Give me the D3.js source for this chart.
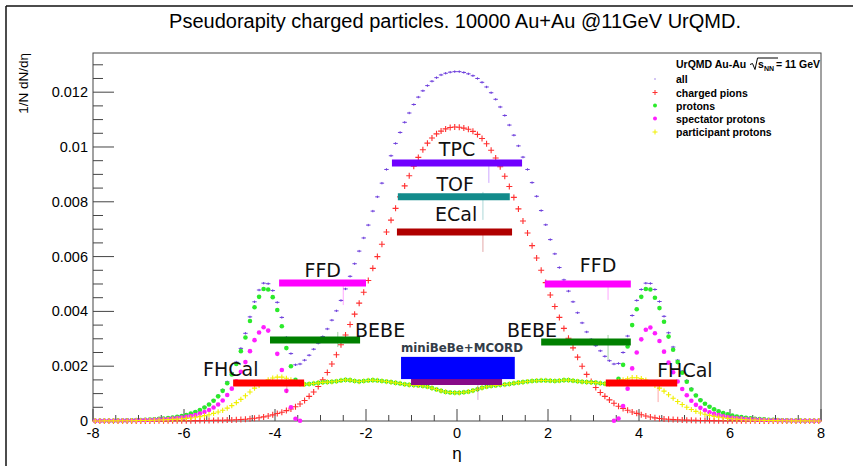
<!DOCTYPE html>
<html>
<head>
<meta charset="utf-8">
<script src="https://cdn.jsdelivr.net/npm/d3@7"></script>
<style>
body{margin:0;background:#fff}
svg{display:block}
</style>
</head>
<body>
<div id="chart"></div>
<script>
// bin contents: 160 bins of 0.1 in eta (-8..8), values in units of 1e-4
var UNIT = 1e-4;
var allParticles = [
 0.05,0.06,0.08,0.1,0.12,0.14,0.18,0.22,0.27,0.33,
 0.39,0.47,0.56,0.67,0.8,0.96,1.14,1.35,1.6,1.92,
 2.3,2.8,3.4,4.15,5.1,6.2,7.6,9.3,11.4,14.3,
 17.6,21.5,26.5,32,38,43.5,47.8,50.3,50.1,47.6,
 43.3,37.8,30.5,24.6,20.5,20.8,22.2,24,26.2,28.4,
 30.8,33.6,36.8,40.2,44,48.2,52.8,57.4,62,66.8,
 71.5,76.6,81.8,86.8,91.8,96.8,101.3,105.3,109,112.4,
 115.5,118.2,120.5,122.4,124,125.3,126.3,126.9,127.3,127.5,
 127.5,127.2,126.7,126,125,123.6,121.9,119.8,117.4,114.6,
 111.5,108,104.3,100.4,96.3,91.8,87,82,76.8,71.6,
 66.2,61,56,51.5,47.4,43.5,39.5,35.8,32.5,29.8,
 27.5,25.6,23.6,22,20.8,21,25,31,38.5,44,
 48,50.3,50.2,48,43.6,38.2,32.2,27,22.2,18.2,
 14.8,11.9,9.6,7.9,6.5,5.4,4.4,3.62,3.0,2.5,
 2.08,1.72,1.45,1.22,1.03,0.86,0.72,0.6,0.5,0.42,
 0.35,0.28,0.23,0.19,0.15,0.12,0.1,0.08,0.06,0.05
];
var chargedPions = [
 0.01,0.01,0.01,0.01,0.02,0.02,0.02,0.02,0.03,0.03,
 0.03,0.04,0.04,0.05,0.05,0.06,0.06,0.07,0.08,0.09,
 0.1,0.11,0.12,0.14,0.16,0.18,0.21,0.24,0.28,0.33,
 0.39,0.46,0.55,0.66,0.8,0.98,1.2,1.5,1.85,2.25,
 2.75,3.2,3.8,4.4,5.2,6.2,7.5,9.0,10.6,12.6,
 15,17.7,20.8,24.2,27.8,31.4,35.2,39,43,47,
 51.3,55.7,60,64.5,69,73.3,77.6,81.8,85.8,89.5,
 93,96.2,99,101.4,103.3,104.8,105.8,106.6,107.1,107.3,
 107.2,106.9,106.5,105.7,104.6,103.1,101.2,98.8,96,92.8,
 89.3,85.6,81.6,77.4,73,68.6,64,59.5,55,50.5,
 46,41.8,37.8,33.8,30.2,26.7,23.3,20,17,14.4,
 12.2,10.4,9.0,7.7,6.5,5.4,4.6,3.9,3.3,2.8,
 2.3,1.85,1.45,1.15,0.92,0.75,0.62,0.52,0.44,0.37,
 0.31,0.26,0.22,0.19,0.16,0.14,0.12,0.11,0.1,0.09,
 0.08,0.07,0.06,0.06,0.05,0.05,0.04,0.04,0.03,0.03,
 0.03,0.02,0.02,0.02,0.02,0.01,0.01,0.01,0.01,0.01
];
var protons = [
 0.04,0.05,0.07,0.09,0.11,0.14,0.17,0.21,0.26,0.32,
 0.38,0.46,0.55,0.65,0.78,0.93,1.1,1.3,1.55,1.85,
 2.2,2.7,3.3,4.0,4.9,6.0,7.4,9.0,11.0,13.8,
 17.0,20.8,25.5,30.5,36.5,41.5,45.3,48.2,48.0,45.2,
 40.5,34.6,26.6,20.0,15.0,13.6,13.4,13.5,13.7,13.9,
 14.1,14.2,14.3,14.5,14.8,15.0,14.9,14.6,14.4,14.6,
 14.8,14.9,14.8,14.6,14.4,14.2,13.9,13.7,13.4,13.2,
 13.1,13.0,12.8,12.5,12.0,11.5,11.0,10.6,10.4,10.3,
 10.3,10.5,10.7,11.1,11.6,12.1,12.5,12.8,13,13.2,
 13.3,13.5,13.8,14,14.2,14.4,14.6,14.7,14.8,14.8,
 14.7,14.6,14.7,14.9,14.9,14.7,14.5,14.3,14.2,14.1,
 14,13.8,13.6,13.5,13.8,15.4,20.5,27.2,35,40.8,
 45.3,48.2,48,45,41.2,36.2,30.8,26,21.5,17.6,
 14.3,11.5,9.3,7.6,6.3,5.2,4.25,3.5,2.9,2.4,
 2.0,1.65,1.4,1.18,0.99,0.82,0.69,0.58,0.48,0.4,
 0.33,0.27,0.22,0.18,0.15,0.12,0.09,0.08,0.06,0.05
];
var spectatorProtons = [
 0.03,0.04,0.05,0.06,0.08,0.1,0.12,0.15,0.18,0.21,
 0.26,0.31,0.37,0.44,0.52,0.62,0.74,0.88,1.05,1.25,
 1.5,1.8,2.2,2.7,3.3,4.0,4.9,6.0,7.5,9.5,
 11.8,14.5,18,21.5,25.5,29.5,32.3,34.2,33,29.5,
 24.5,18.6,11,5,0.8,0.1,0,0,0,0,
 0,0,0,0,0,0,0,0,0,0,
 0,0,0,0,0,0,0,0,0,0,
 0,0,0,0,0,0,0,0,0,0,
 0,0,0,0,0,0,0,0,0,0,
 0,0,0,0,0,0,0,0,0,0,
 0,0,0,0,0,0,0,0,0,0,
 0,0,0,0,0.1,0.9,5.5,11.8,19.2,25,
 29.8,33.3,34.1,32,29.2,25.3,21.3,17.8,14.4,11.7,
 9.4,7.4,5.9,4.8,3.9,3.2,2.6,2.15,1.75,1.45,
 1.2,1.0,0.85,0.72,0.6,0.5,0.42,0.36,0.3,0.25,
 0.21,0.17,0.14,0.12,0.1,0.08,0.06,0.05,0.04,0.03
];
var participantProtons = [
 0.02,0.02,0.03,0.04,0.05,0.06,0.08,0.09,0.11,0.14,
 0.17,0.2,0.24,0.29,0.34,0.41,0.49,0.58,0.68,0.8,
 0.95,1.12,1.35,1.6,1.95,2.3,2.8,3.3,3.9,4.7,
 5.6,6.7,7.9,9.2,10.6,12,13,14,15,15.7,
 16,16,15.6,15,14.2,13.5,13.4,13.5,13.7,13.9,
 14.1,14.2,14.3,14.5,14.8,15,14.9,14.6,14.4,14.6,
 14.8,14.9,14.8,14.6,14.4,14.2,13.9,13.7,13.4,13.2,
 13.1,13,12.8,12.5,12,11.5,11,10.6,10.4,10.3,
 10.3,10.5,10.7,11.1,11.6,12.1,12.5,12.8,13,13.2,
 13.3,13.5,13.8,14,14.2,14.4,14.6,14.7,14.8,14.8,
 14.7,14.6,14.7,14.9,14.9,14.7,14.5,14.3,14.2,14.1,
 14,13.8,13.6,13.5,13.7,14.5,15,15.4,15.8,15.8,
 15.5,14.9,13.9,13,12,10.9,9.6,8.3,7.1,6.0,
 5.0,4.2,3.5,2.9,2.45,2.05,1.7,1.4,1.17,0.97,
 0.8,0.67,0.56,0.47,0.39,0.32,0.27,0.22,0.18,0.15,
 0.12,0.1,0.08,0.06,0.05,0.04,0.03,0.03,0.02,0.02
];
var seriesNames = ["all","charged pions","protons","spectator protons","participant protons"];
var xTicks = [-8,-6,-4,-2,0,2,4,6,8];
var yTicks = [0,0.002,0.004,0.006,0.008,0.01,0.012];

// detector acceptance bars: eta range and level, plus the small vertical error line
var detectors = [
 {name:"TPC",  lo:-1.43, hi:1.43, level:0.00942, errEta:0.70,  errLo:0.00869, errHi:0.00942, color:"#7000ff"},
 {name:"TOF",  lo:-1.30, hi:1.16, level:0.00818, errEta:0.57,  errLo:0.00734, errHi:0.00836, color:"#128b8b"},
 {name:"ECal", lo:-1.32, hi:1.21, level:0.00690, errEta:0.57,  errLo:0.00617, errHi:0.00690, color:"#b00000"},
 {name:"FFD",  lo:-3.91, hi:-2.00, level:0.00504, errEta:-2.50, errLo:0.00423, errHi:0.00504, color:"#ff00ff"},
 {name:"FFD",  lo:1.93,  hi:3.82, level:0.00500, errEta:3.32,  errLo:0.00442, errHi:0.00500, color:"#ff00ff"},
 {name:"BEBE", lo:-4.11, hi:-2.13, level:0.00296, errEta:-2.62, errLo:0.00270, errHi:0.00325, color:"#008000"},
 {name:"BEBE", lo:1.85,  hi:3.82, level:0.00288, errEta:3.32,  errLo:0.00223, errHi:0.00314, color:"#008000"},
 {name:"FHCal",lo:-4.92, hi:-3.36, level:0.00139, errEta:-3.74, errLo:0.00102, errHi:0.00139, color:"#ff0000"},
 {name:"FHCal",lo:3.27,  hi:4.84, level:0.00139, errEta:4.42,  errLo:0.00069, errHi:0.00139, color:"#ff0000"},
 {name:"MCORD",lo:-1.01, hi:0.99, level:0.00142, errEta:0.46,  errLo:0.00077, errHi:0.00142, color:"#880a88"}
];
var miniBeBe = {lo:-1.23, hi:1.27, bottom:0.00153, top:0.00234};
var labels = [
 {text:"TPC",  eta:0,     v:0.00967, anchor:"middle"},
 {text:"TOF",  eta:-0.04, v:0.00839, anchor:"middle"},
 {text:"ECal", eta:-0.02, v:0.00730, anchor:"middle"},
 {text:"FFD",  eta:-2.95, v:0.00526, anchor:"middle"},
 {text:"FFD",  eta:3.10,  v:0.00544, anchor:"middle"},
 {text:"BEBE", eta:-2.24, v:0.00307, anchor:"start"},
 {text:"BEBE", eta:1.10,  v:0.00307, anchor:"start"},
 {text:"FHCal",eta:-5.58, v:0.00164, anchor:"start"},
 {text:"FHCal",eta:4.40,  v:0.00161, anchor:"start"}
];

var W=853, H=466;
var rootFont="'Liberation Sans', Arial, Helvetica, sans-serif";
var svg=d3.select("#chart").append("svg")
	.attr("width",W)
	.attr("height",H)
	.style("font-family",rootFont);

var x=d3.scaleLinear().domain([-8,8]).range([93,821]);
var y=d3.scaleLinear().domain([0,0.01343]).range([421,53]);
var eta=d3.range(160).map(function(i){return -7.95+0.1*i;});

// canvas border (top and left edges)
svg.append("line").attr("x1",6).attr("y1",6).attr("x2",W).attr("y2",6).attr("stroke","#111").attr("stroke-width",1.5);
svg.append("line").attr("x1",6).attr("y1",6).attr("x2",6).attr("y2",H).attr("stroke","#111").attr("stroke-width",1.5);

// title
svg.append("text")
	.attr("x",455).attr("y",28)
	.attr("text-anchor","middle")
	.attr("font-size",20)
	.text("Pseudorapity charged particles. 10000 Au+Au @11GeV UrQMD.");

// frame
svg.append("rect")
	.attr("x",x(-8)).attr("y",y(0.01343))
	.attr("width",x(8)-x(-8)).attr("height",y(0)-y(0.01343))
	.attr("fill","none").attr("stroke","#444").attr("stroke-width",1);

// y axis ticks, ROOT style (inside the frame)
var yMinor=d3.range(0,0.01343,0.0005);
svg.append("g").selectAll("line").data(yMinor).join("line")
	.attr("x1",x(-8)).attr("x2",function(d){return x(-8)+(Math.abs(d/0.002-Math.round(d/0.002))<1e-6?21:10);})
	.attr("y1",function(d){return y(d);}).attr("y2",function(d){return y(d);})
	.attr("stroke","#444");
svg.append("g").selectAll("text").data(yTicks).join("text")
	.attr("x",88).attr("y",function(d){return y(d)+5;})
	.attr("text-anchor","end").attr("font-size",14.5)
	.text(function(d){return d3.format("")(+d.toFixed(3));});

// x axis ticks
var xMinor=d3.range(-8,8.01,0.5);
svg.append("g").selectAll("line").data(xMinor).join("line")
	.attr("x1",function(d){return x(d);}).attr("x2",function(d){return x(d);})
	.attr("y1",y(0)).attr("y2",function(d){return y(0)-(d%2===0?12:6);})
	.attr("stroke","#444");
svg.append("g").selectAll("text").data(xTicks).join("text")
	.attr("x",function(d){return x(d);}).attr("y",438)
	.attr("text-anchor","middle").attr("font-size",14.5)
	.text(function(d){return d<0?"-"+(-d):String(d);});

// axis titles
svg.append("text").attr("x",457).attr("y",459).attr("text-anchor","middle").attr("font-size",17).text("η");
svg.append("text").attr("transform","translate(28,53) rotate(-90)").attr("text-anchor","end").attr("font-size",13.5).text("1/N dN/dη");

// markers
var plusPath=function(a,b){return "M"+(-a)+",0H"+a+"M0,"+(-b)+"V"+b;};
var series=[
 {values:allParticles, type:"plus", color:"#6e3fdc", a:2.2, b:1.2, w:1},
 {values:chargedPions, type:"plus", color:"#ff3030", a:3, b:3, w:1.1},
 {values:protons, type:"dot", color:"#2bea2b", r:2.3},
 {values:spectatorProtons, type:"dot", color:"#ff1eff", r:2.3},
 {values:participantProtons, type:"plus", color:"#f0f000", a:2.6, b:2.6, w:1.1}
];
series.forEach(function(s){
	var pts=eta.map(function(e,i){return [e,s.values[i]];}).filter(function(d){return d[1]>0;});
	var g=svg.append("g");
	if(s.type==="plus"){
		g.selectAll("path").data(pts).join("path")
			.attr("transform",function(d){return "translate("+x(d[0])+","+y(d[1]*UNIT)+")";})
			.attr("d",plusPath(s.a,s.b))
			.attr("stroke",s.color).attr("stroke-width",s.w).attr("fill","none");
	}else{
		g.selectAll("circle").data(pts).join("circle")
			.attr("cx",function(d){return x(d[0]);})
			.attr("cy",function(d){return y(d[1]*UNIT);})
			.attr("r",s.r).attr("fill",s.color);
	}
});

// detector bars
svg.append("g").selectAll("line").data(detectors).join("line")
	.attr("x1",function(d){return x(d.errEta);}).attr("x2",function(d){return x(d.errEta);})
	.attr("y1",function(d){return y(d.errLo);}).attr("y2",function(d){return y(d.errHi);})
	.attr("stroke",function(d){return d.color;}).attr("stroke-opacity",0.35).attr("stroke-width",1);
svg.append("g").selectAll("line").data(detectors).join("line")
	.attr("x1",function(d){return x(d.lo);}).attr("x2",function(d){return x(d.hi);})
	.attr("y1",function(d){return y(d.level);}).attr("y2",function(d){return y(d.level);})
	.attr("stroke",function(d){return d.color;})
	.attr("stroke-width",function(d){return d.name==="MCORD"?6:7;});
svg.append("rect")
	.attr("x",x(miniBeBe.lo)).attr("y",y(miniBeBe.top))
	.attr("width",x(miniBeBe.hi)-x(miniBeBe.lo)).attr("height",y(miniBeBe.bottom)-y(miniBeBe.top))
	.attr("fill","#0000ff");

svg.append("g").selectAll("text").data(labels).join("text")
	.attr("x",function(d){return x(d.eta);}).attr("y",function(d){return y(d.v);})
	.attr("text-anchor",function(d){return d.anchor;})
	.attr("font-family","'DejaVu Sans', Verdana, sans-serif")
	.attr("font-size",19).attr("fill","#111")
	.text(function(d){return d.text;});
svg.append("text")
	.attr("x",x(-1.23)).attr("y",352)
	.attr("font-family","'DejaVu Sans', Verdana, sans-serif")
	.attr("font-weight","bold").attr("font-size",11.8).attr("fill","#333d48")
	.text("miniBeBe+MCORD");

// legend
var leg=svg.append("g").attr("font-weight","bold").attr("font-size",10.5);
leg.append("text").attr("x",676).attr("y",68).text("UrQMD Au-Au");
leg.append("path").attr("d","M750,64.5L752.5,63.5L755,69.5L757.5,58H778").attr("fill","none").attr("stroke","#000").attr("stroke-width",1);
leg.append("text").attr("x",758).attr("y",68).text("s");
leg.append("text").attr("x",764).attr("y",70.5).attr("font-size",7).text("NN");
leg.append("text").attr("x",820).attr("y",68).attr("text-anchor","end").text("= 11 GeV");
var legY=[79,92.5,105.5,118.5,132];
seriesNames.forEach(function(n,i){
	var s=series[i];
	leg.append("text").attr("x",676).attr("y",legY[i]+4).text(n);
	if(s.type==="plus"){
		leg.append("path").attr("transform","translate(655,"+legY[i]+")")
			.attr("d",plusPath(i===0?0.8:2.5,i===0?0.8:2.5)).attr("stroke",s.color)
			.attr("stroke-opacity",i===0?0.4:1).attr("fill","none");
	}else{
		leg.append("circle").attr("cx",655).attr("cy",legY[i]).attr("r",2).attr("fill",s.color);
	}
});
</script>
</body>
</html>
